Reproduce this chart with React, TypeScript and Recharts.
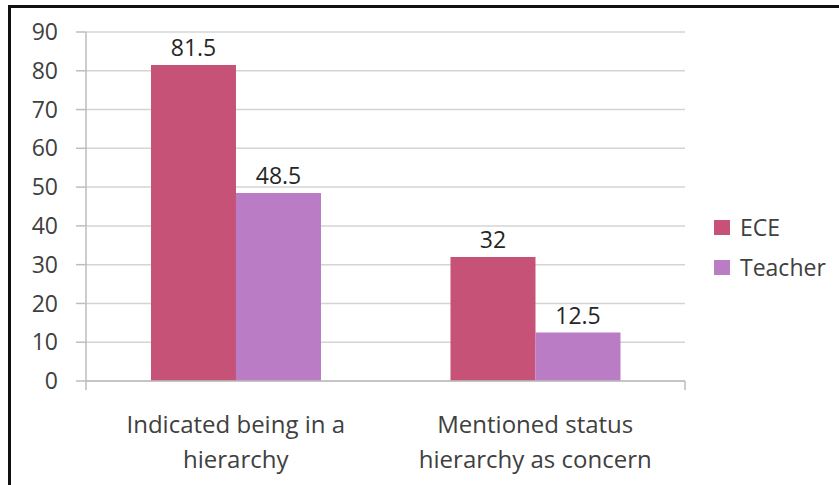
import React from 'react'
import {
  BarChart,
  Bar,
  XAxis,
  YAxis,
  CartesianGrid,
  LabelList,
  Legend,
} from 'recharts'

const categories = ['Indicated being in a hierarchy', 'Mentioned status hierarchy as concern']
// two-line wrap for the category labels
const categoryLines = [
  ['Indicated being in a', 'hierarchy'],
  ['Mentioned status', 'hierarchy as concern'],
]
const eceValues = [81.5, 32]
const teacherValues = [48.5, 12.5]
const yTicks = [0, 10, 20, 30, 40, 50, 60, 70, 80, 90]
const seriesNames = ['ECE', 'Teacher']
const seriesColors = ['#C65377', '#BA7CC5']

const data = categories.map((name, i) => ({
  name,
  ece: eceValues[i],
  teacher: teacherValues[i],
}))

const FONT = '"Open Sans", "Noto Sans", sans-serif'
const LEGEND_W = 125

function CategoryTick({ x, y, payload }: any) {
  const lines = categoryLines[payload.index] ?? [payload.value]
  return (
    <text x={x} y={y} textAnchor="middle" fill="#404040" fontSize={24} fontFamily={FONT}>
      {lines.map((l: string, i: number) => (
        <tspan key={i} x={x} dy={i === 0 ? 43 : 35}>
          {l}
        </tspan>
      ))}
    </text>
  )
}

function LegendBox() {
  return (
    <div style={{ fontFamily: FONT, fontSize: 23, color: '#404040' }}>
      {seriesNames.map((n, i) => (
        <div key={n} style={{ display: 'flex', alignItems: 'center', height: 40 }}>
          <span
            style={{
              display: 'inline-block',
              width: 16,
              height: 15,
              background: seriesColors[i],
              marginRight: 10,
            }}
          />
          <span>{n}</span>
        </div>
      ))}
    </div>
  )
}

export default function App() {
  return (
    <div
      style={{
        position: 'absolute',
        left: 0,
        top: 0,
        width: 839,
        height: 485,
        overflow: 'hidden',
        background: '#fff',
      }}
    >
      <div
        style={{
          position: 'absolute',
          left: 8,
          top: 5,
          width: 1000,
          height: 700,
          borderTop: '3px solid #111',
          borderLeft: '3px solid #111',
        }}
      />
      <div style={{ position: 'absolute', left: 0, top: 0 }}>
        <BarChart
          width={839}
          height={485}
          data={data}
          margin={{ top: 32, right: 154 - LEGEND_W, bottom: 23, left: 0 }}
          barCategoryGap="21.7%"
          barGap={0}
        >
          <CartesianGrid xAxisId="cat" vertical={false} stroke="#d4d4d4" strokeWidth={1.5} />
          {/* boundary ticks between the categories */}
          <XAxis
            xAxisId="base"
            type="number"
            domain={[0, 2]}
            ticks={[0, 1, 2]}
            height={1}
            tickSize={9}
            tickFormatter={() => ''}
            axisLine={{ stroke: '#bdbdbd', strokeWidth: 1.5 }}
            tickLine={{ stroke: '#bdbdbd', strokeWidth: 1.5 }}
          />
          <XAxis
            xAxisId="cat"
            dataKey="name"
            height={80}
            axisLine={false}
            tickLine={false}
            tick={<CategoryTick />}
            interval={0}
          />
          <YAxis
            width={86}
            domain={[0, 90]}
            ticks={yTicks}
            interval={0}
            tickSize={10}
            tickMargin={18}
            axisLine={{ stroke: '#bdbdbd', strokeWidth: 1.5 }}
            tickLine={{ stroke: '#bdbdbd', strokeWidth: 1.5 }}
            tick={{ fill: '#404040', fontSize: 23, fontFamily: FONT }}
          />
          <Legend
            layout="vertical"
            align="right"
            verticalAlign="middle"
            content={<LegendBox />}
            wrapperStyle={{ left: 714, top: 207, width: LEGEND_W }}
          />
          <Bar xAxisId="cat" dataKey="ece" name={seriesNames[0]} fill={seriesColors[0]} isAnimationActive={false}>
            <LabelList
              dataKey="ece"
              position="top"
              offset={9}
              fill="#262626"
              fontSize={23}
              fontFamily={FONT}
            />
          </Bar>
          <Bar xAxisId="cat" dataKey="teacher" name={seriesNames[1]} fill={seriesColors[1]} isAnimationActive={false}>
            <LabelList
              dataKey="teacher"
              position="top"
              offset={9}
              fill="#262626"
              fontSize={23}
              fontFamily={FONT}
            />
          </Bar>
        </BarChart>
      </div>
    </div>
  )
}
